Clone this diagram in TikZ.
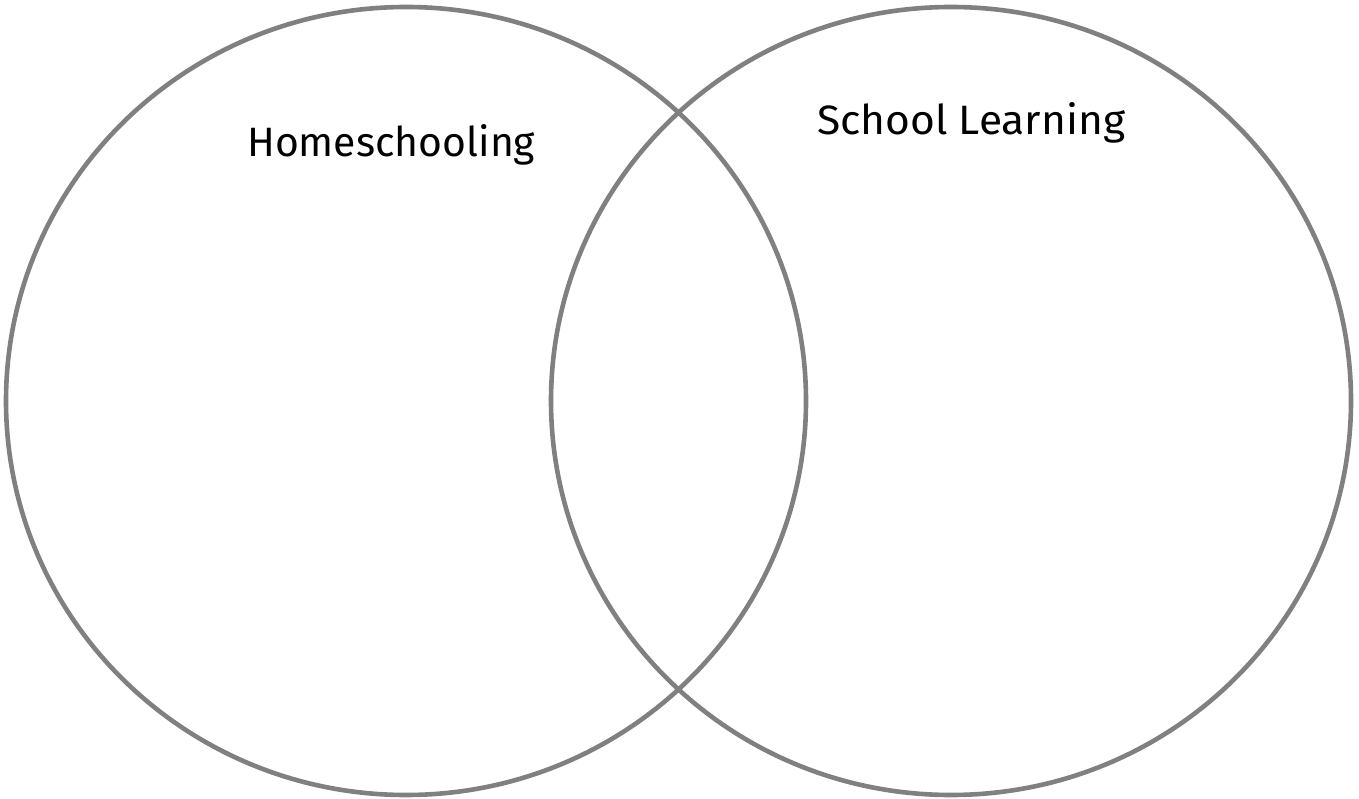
\documentclass[tikz,border=0pt]{standalone}
\usepackage{fontspec}
\setmainfont{Fira Sans}
\definecolor{ringgray}{RGB}{128,128,128}
\begin{document}
\begin{tikzpicture}[x=1pt,y=1pt,
  ring/.style={draw=ringgray,line width=4.6pt},
  label/.style={anchor=base west,inner sep=0pt,font=\fontsize{40}{48}\selectfont,text=black}]
\useasboundingbox (0,0) rectangle (1359,798);
\draw[ring] (406,397) ellipse [x radius=400,y radius=394];
\draw[ring] (951,397) ellipse [x radius=400,y radius=394];
\node[label] (home) at (247,641) {\resizebox{288pt}{32pt}{\vphantom{H}Homeschooling}};
\node[label] (school) at (817,663) {\resizebox{308pt}{32pt}{\vphantom{H}School Learning}};
\end{tikzpicture}
\end{document}
